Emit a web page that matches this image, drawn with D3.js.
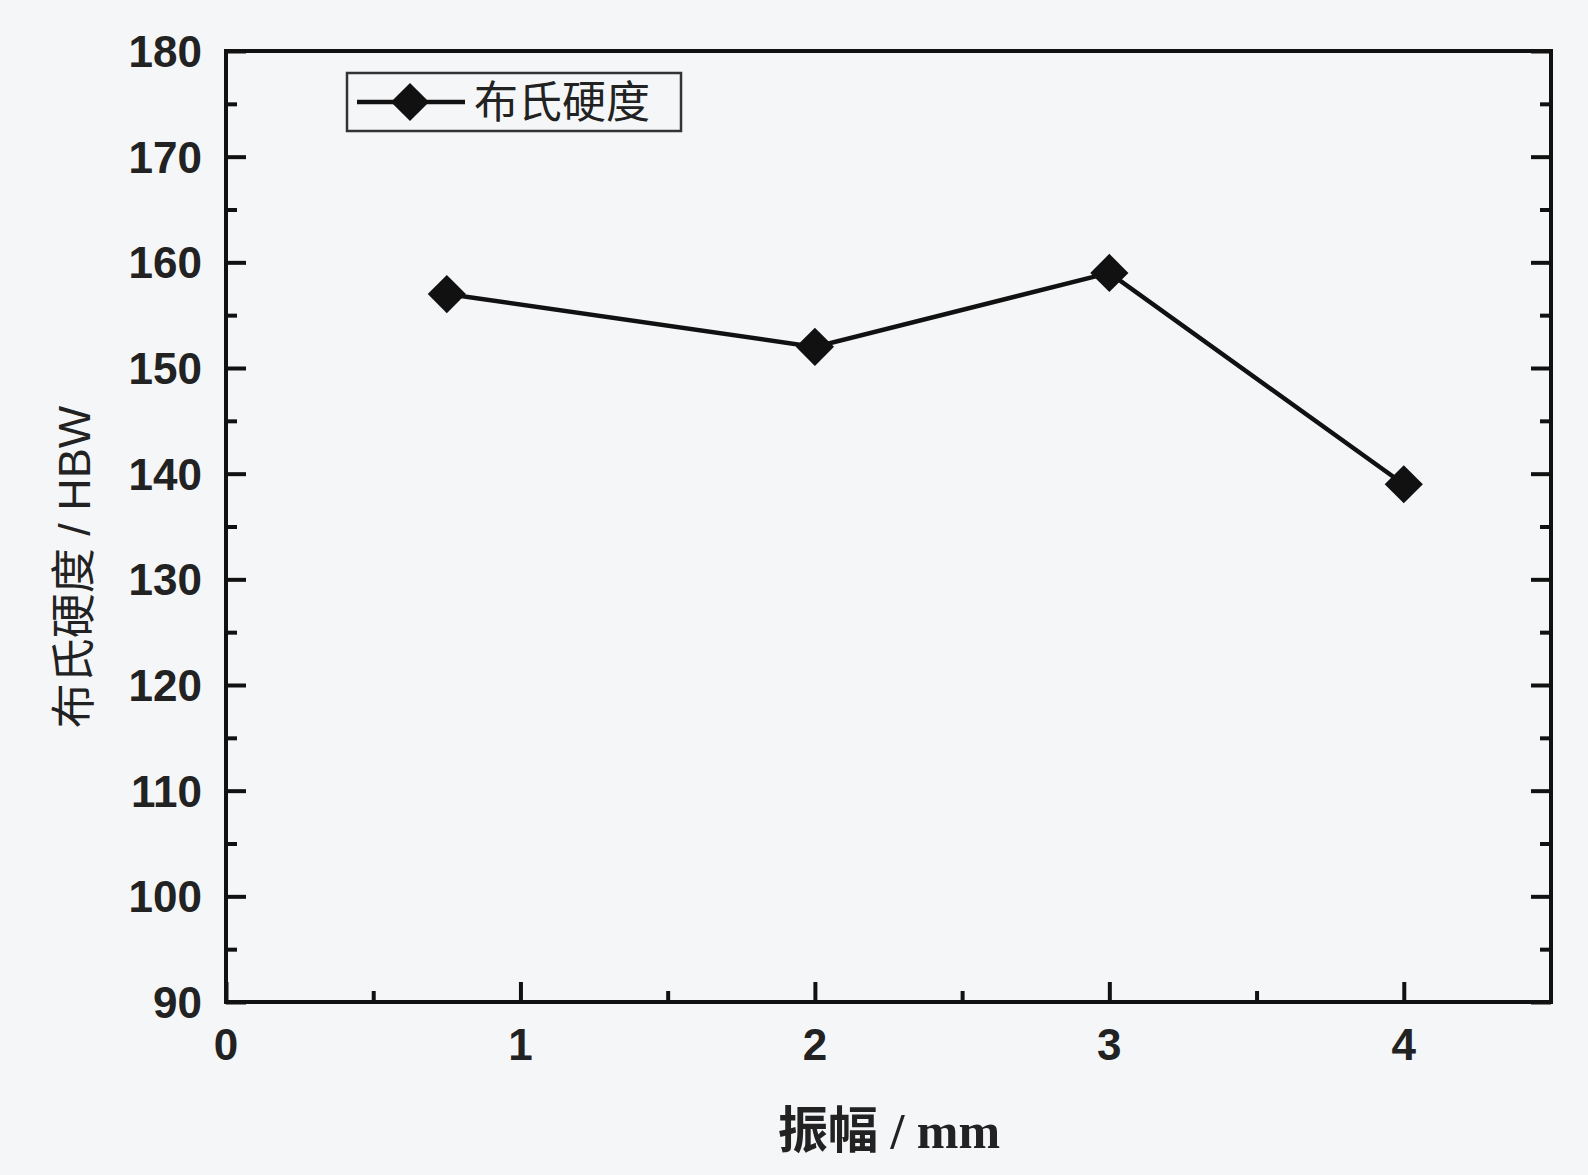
<!DOCTYPE html>
<html><head><meta charset="utf-8">
<script src="https://cdn.jsdelivr.net/npm/d3@7/dist/d3.min.js"></script>
<style>html,body{margin:0;padding:0;background:#f5f6f8;}svg{display:block;}</style>
</head><body>
<svg id="c" width="1588" height="1175"></svg>
<script>
const amplitude = [0.75, 2, 3, 4];
const hardness = [157, 152, 159, 139];
const xTicks = [0, 1, 2, 3, 4];
const yTicks = [90, 100, 110, 120, 130, 140, 150, 160, 170, 180];
const seriesName = "布氏硬度";
const xTitle = "振幅 / mm";
const yTitle = "布氏硬度 / HBW";

const svg = d3.select("#c");
const L = 226, R = 1551, T = 51, B = 1002;
const x = d3.scaleLinear().domain([0, 4.5]).range([L, R]);
const y = d3.scaleLinear().domain([90, 180]).range([B, T]);
const ink = "#111";
const numFont = "'Liberation Sans', Arial, sans-serif";

svg.append("rect").attr("width",1588).attr("height",1175).attr("fill","#f5f6f8");

const xMinor = d3.range(0.5, 4.5, 1);
const yMinor = d3.range(95, 180, 10);

function styleAxis(g){
  g.select(".domain").remove();
  g.selectAll(".tick line").attr("stroke", ink).attr("stroke-width", 4);
}
svg.append("g").attr("transform",`translate(0,${B})`)
  .call(d3.axisBottom(x).tickValues(xTicks).tickSize(-20).tickPadding(0).tickFormat(""))
  .call(styleAxis);
svg.append("g").attr("transform",`translate(0,${B})`)
  .call(d3.axisBottom(x).tickValues(xMinor).tickSize(-11).tickFormat(""))
  .call(styleAxis);
svg.append("g").attr("transform",`translate(${L},0)`)
  .call(d3.axisLeft(y).tickValues(yTicks).tickSize(-20).tickFormat(""))
  .call(styleAxis);
svg.append("g").attr("transform",`translate(${L},0)`)
  .call(d3.axisLeft(y).tickValues(yMinor).tickSize(-11).tickFormat(""))
  .call(styleAxis);
svg.append("g").attr("transform",`translate(${R},0)`)
  .call(d3.axisRight(y).tickValues(yTicks).tickSize(-20).tickFormat(""))
  .call(styleAxis);
svg.append("g").attr("transform",`translate(${R},0)`)
  .call(d3.axisRight(y).tickValues(yMinor).tickSize(-11).tickFormat(""))
  .call(styleAxis);

svg.append("rect").attr("x",L).attr("y",T).attr("width",R-L).attr("height",B-T)
  .attr("fill","none").attr("stroke",ink).attr("stroke-width",4);

svg.append("g").selectAll("text").data(yTicks).join("text")
  .attr("x", 202).attr("y", d => y(d)).attr("dy","0.36em")
  .attr("text-anchor","end").attr("font-family",numFont).attr("font-weight","bold")
  .attr("font-size",44).attr("fill","#222").text(d => d);
svg.append("g").selectAll("text").data(xTicks).join("text")
  .attr("x", d => x(d)).attr("y", 1060)
  .attr("text-anchor","middle").attr("font-family",numFont).attr("font-weight","bold")
  .attr("font-size",44).attr("fill","#222").text(d => d);

svg.append("text").attr("x",889).attr("y",1148).attr("text-anchor","middle")
  .attr("font-family","'Liberation Serif', 'Noto Sans CJK SC', serif").attr("font-weight","bold")
  .attr("font-size",50).attr("fill","#222").text(xTitle);
svg.append("text").attr("transform","translate(90,567) rotate(-90)").attr("text-anchor","middle")
  .attr("font-family","'Liberation Sans', 'Noto Sans CJK SC', sans-serif")
  .attr("font-size",45).attr("fill","#222").text(yTitle);

const line = d3.line().x((d,i)=>x(amplitude[i])).y(d=>y(d));
svg.append("path").datum(hardness).attr("d",line).attr("fill","none")
  .attr("stroke",ink).attr("stroke-width",4.5);
const diamond = d3.symbol().type(d3.symbolSquare).size(27*27);
svg.append("g").selectAll("path").data(hardness).join("path")
  .attr("d", diamond)
  .attr("transform",(d,i)=>`translate(${x(amplitude[i])},${y(d)}) rotate(45)`)
  .attr("fill",ink);

const lg = svg.append("g");
lg.append("rect").attr("x",347).attr("y",73).attr("width",334).attr("height",58)
  .attr("fill","none").attr("stroke","#333").attr("stroke-width",2.5);
lg.append("line").attr("x1",357).attr("x2",465).attr("y1",102).attr("y2",102)
  .attr("stroke",ink).attr("stroke-width",4.5);
lg.append("path").attr("d",diamond).attr("transform","translate(410,102) rotate(45)").attr("fill",ink);
lg.append("text").attr("x",474).attr("y",102).attr("dy","0.36em")
  .attr("font-family","'Noto Sans CJK SC', sans-serif").attr("font-size",44)
  .attr("fill","#222").text(seriesName);
</script>
</body></html>
